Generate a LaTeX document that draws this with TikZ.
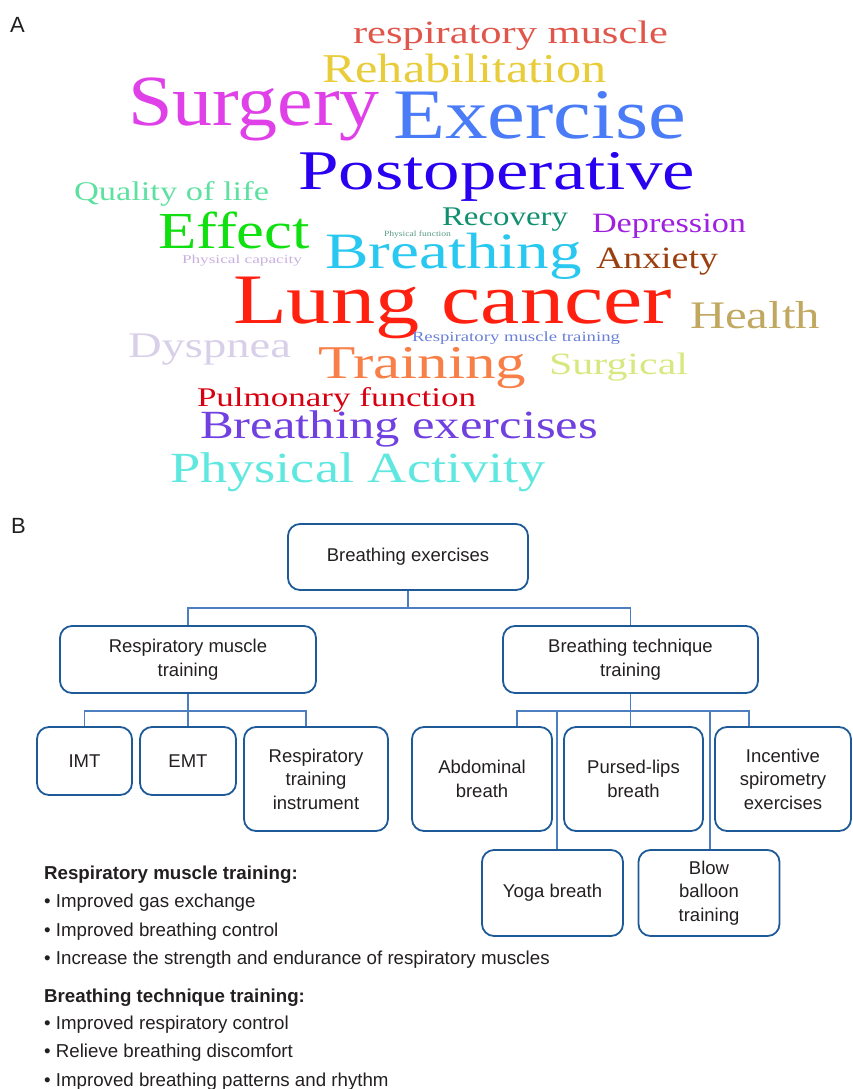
\documentclass[tikz,border=0pt]{standalone}
\usepackage{fontspec}
\usepackage{graphicx}
\newfontfamily\wcfont{Liberation Serif}
\newfontfamily\sansf{Liberation Sans}
\definecolor{boxc}{HTML}{1E5A97}
\definecolor{linec}{HTML}{4D7FC0}
\definecolor{txtc}{HTML}{231F20}
\definecolor{cA}{HTML}{E0564A}
\definecolor{cB}{HTML}{E8CC3A}
\definecolor{cC}{HTML}{E040E8}
\definecolor{cD}{HTML}{4A7CF8}
\definecolor{cE}{HTML}{2A00F0}
\definecolor{cF}{HTML}{5EE0A0}
\definecolor{cG}{HTML}{10E010}
\definecolor{cH}{HTML}{109070}
\definecolor{cI}{HTML}{A020E0}
\definecolor{cJ}{HTML}{5A9A88}
\definecolor{cK}{HTML}{C8B0E0}
\definecolor{cL}{HTML}{28C8F0}
\definecolor{cM}{HTML}{9A4010}
\definecolor{cN}{HTML}{FF2010}
\definecolor{cO}{HTML}{C0A860}
\definecolor{cP}{HTML}{6A80D8}
\definecolor{cQ}{HTML}{D8D0E8}
\definecolor{cR}{HTML}{F88048}
\definecolor{cS}{HTML}{D8E880}
\definecolor{cT}{HTML}{D80010}
\definecolor{cU}{HTML}{7040E0}
\definecolor{cV}{HTML}{60E8E0}
\newcommand\wcw[7]{\node[word,text=#6] (#1) at (#2,#3) {\resizebox{#5pt}{\height}{\fontsize{#4}{#4}\selectfont #7}};}
\tikzset{
  word/.style={anchor=base west,inner sep=0pt,outer sep=0pt,font=\wcfont},
  tbox/.style={draw=boxc,line width=1.8pt,rounded corners=12pt,align=center,inner sep=2pt,
     text=txtc,font=\sansf\fontsize{18.5}{23.5}\selectfont},
  conn/.style={draw=linec,line width=1.3pt},
  body/.style={anchor=base west,inner sep=0pt,text=txtc,font=\sansf\fontsize{18.7}{20}\selectfont},
  bodyb/.style={body,font=\sansf\bfseries\fontsize{18.7}{20}\selectfont},
  panel/.style={anchor=base west,inner sep=0pt,text=txtc,font=\sansf\fontsize{22}{22}\selectfont}
}
\begin{document}
\begin{tikzpicture}[x=1pt,y=-1pt]
\useasboundingbox (0,0) rectangle (853,1089);
\node[panel] (labA) at (10,33) {A};
\node[panel] (labB) at (11,533) {B};
% word cloud
\wcw{w1}{353}{44}{32.5}{315}{cA}{respiratory muscle}
\wcw{w2}{322}{83}{41}{285}{cB}{Rehabilitation}
\wcw{w3}{128}{125}{72}{252}{cC}{Surgery}
\wcw{w4}{393}{139}{71}{293}{cD}{Exercise}
\wcw{w5}{298}{189}{56}{397}{cE}{Postoperative}
\wcw{w6}{74}{200}{27}{195}{cF}{Quality of life}
\wcw{w7}{158}{248}{52}{152}{cG}{Effect}
\wcw{w8}{442}{225}{27}{126}{cH}{Recovery}
\wcw{w9}{592}{232}{28}{154}{cI}{Depression}
\wcw{w10}{384}{236}{8}{67}{cJ}{Physical function}
\wcw{w11}{182}{263}{12}{120}{cK}{Physical capacity}
\wcw{w12}{325}{268}{51}{257}{cL}{Breathing}
\wcw{w13}{596}{268}{31}{122}{cM}{Anxiety}
\wcw{w14}{233}{323}{71}{439}{cN}{Lung cancer}
\wcw{w15}{690}{328}{39}{130}{cO}{Health}
\wcw{w16}{412}{341}{14}{208}{cP}{Respiratory muscle training}
\wcw{w17}{128}{357}{36}{163}{cQ}{Dyspnea}
\wcw{w18}{318}{378}{47}{208}{cR}{Training}
\wcw{w19}{549}{374}{31}{139}{cS}{Surgical}
\wcw{w20}{197}{406}{27}{279}{cT}{Pulmonary function}
\wcw{w21}{200}{438}{40}{398}{cU}{Breathing exercises}
\wcw{w22}{170}{482}{43}{376}{cV}{Physical Activity}
% tree
\node[tbox,minimum width=240pt,minimum height=66pt] (be) at (408,557) {Breathing exercises};
\node[tbox,minimum width=256pt,minimum height=67pt] (rmt) at (188,659.5) {Respiratory muscle\\training};
\node[tbox,minimum width=255pt,minimum height=67pt] (btt) at (630.5,659.5) {Breathing technique\\training};
\node[tbox,minimum width=95pt,minimum height=68pt] (imt) at (84.5,761) {IMT};
\node[tbox,minimum width=96pt,minimum height=68pt] (emt) at (188,761) {EMT};
\node[tbox,minimum width=144pt,minimum height=104pt] (rti) at (316,779) {Respiratory\\training\\instrument};
\node[tbox,minimum width=140pt,minimum height=104pt] (ab) at (482,779) {Abdominal\\breath};
\node[tbox,minimum width=139pt,minimum height=104pt] (pl) at (633.5,779) {Pursed-lips\\breath};
\node[tbox,minimum width=136pt,minimum height=104pt] (isx) at (783,779) {Incentive\\spirometry\\exercises};
\node[tbox,minimum width=141pt,minimum height=86pt] (yoga) at (552.5,893) {Yoga breath};
\node[tbox,minimum width=141pt,minimum height=86pt] (blow) at (709,893) {Blow\\balloon\\training};
\coordinate (j1) at (408,608);
\coordinate (j2) at (188,711);
\coordinate (j3) at (630.5,711);
\draw[conn] (be.south) -- (j1);
\draw[conn] (rmt.north) |- (j1) -| (btt.north);
\draw[conn] (rmt.south) -- (j2);
\draw[conn] (imt.north) |- (j2);
\draw[conn] (emt.north) -- (j2);
\draw[conn] ([xshift=-10pt]rti.north) |- (j2);
\draw[conn] (btt.south) -- (j3);
\draw[conn] ([xshift=35pt]ab.north) |- (j3);
\draw[conn] ([xshift=-34pt]isx.north) |- (j3);
\draw[conn] (j3) -- (j3 |- pl.north);
\draw[conn] ([xshift=4.5pt]yoga.north) |- (j3);
\draw[conn] ([xshift=1pt]blow.north) |- (j3);
% text block
\node[bodyb] (h1) at (44,879) {Respiratory muscle training:};
\node[body] (b1) at (44,907) {• Improved gas exchange};
\node[body] (b2) at (44,936) {• Improved breathing control};
\node[body] (b3) at (44,964) {• Increase the strength and endurance of respiratory muscles};
\node[bodyb] (h2) at (44,1002) {Breathing technique training:};
\node[body] (b4) at (44,1029) {• Improved respiratory control};
\node[body] (b5) at (44,1057) {• Relieve breathing discomfort};
\node[body] (b6) at (44,1086) {• Improved breathing patterns and rhythm};
\end{tikzpicture}
\end{document}
